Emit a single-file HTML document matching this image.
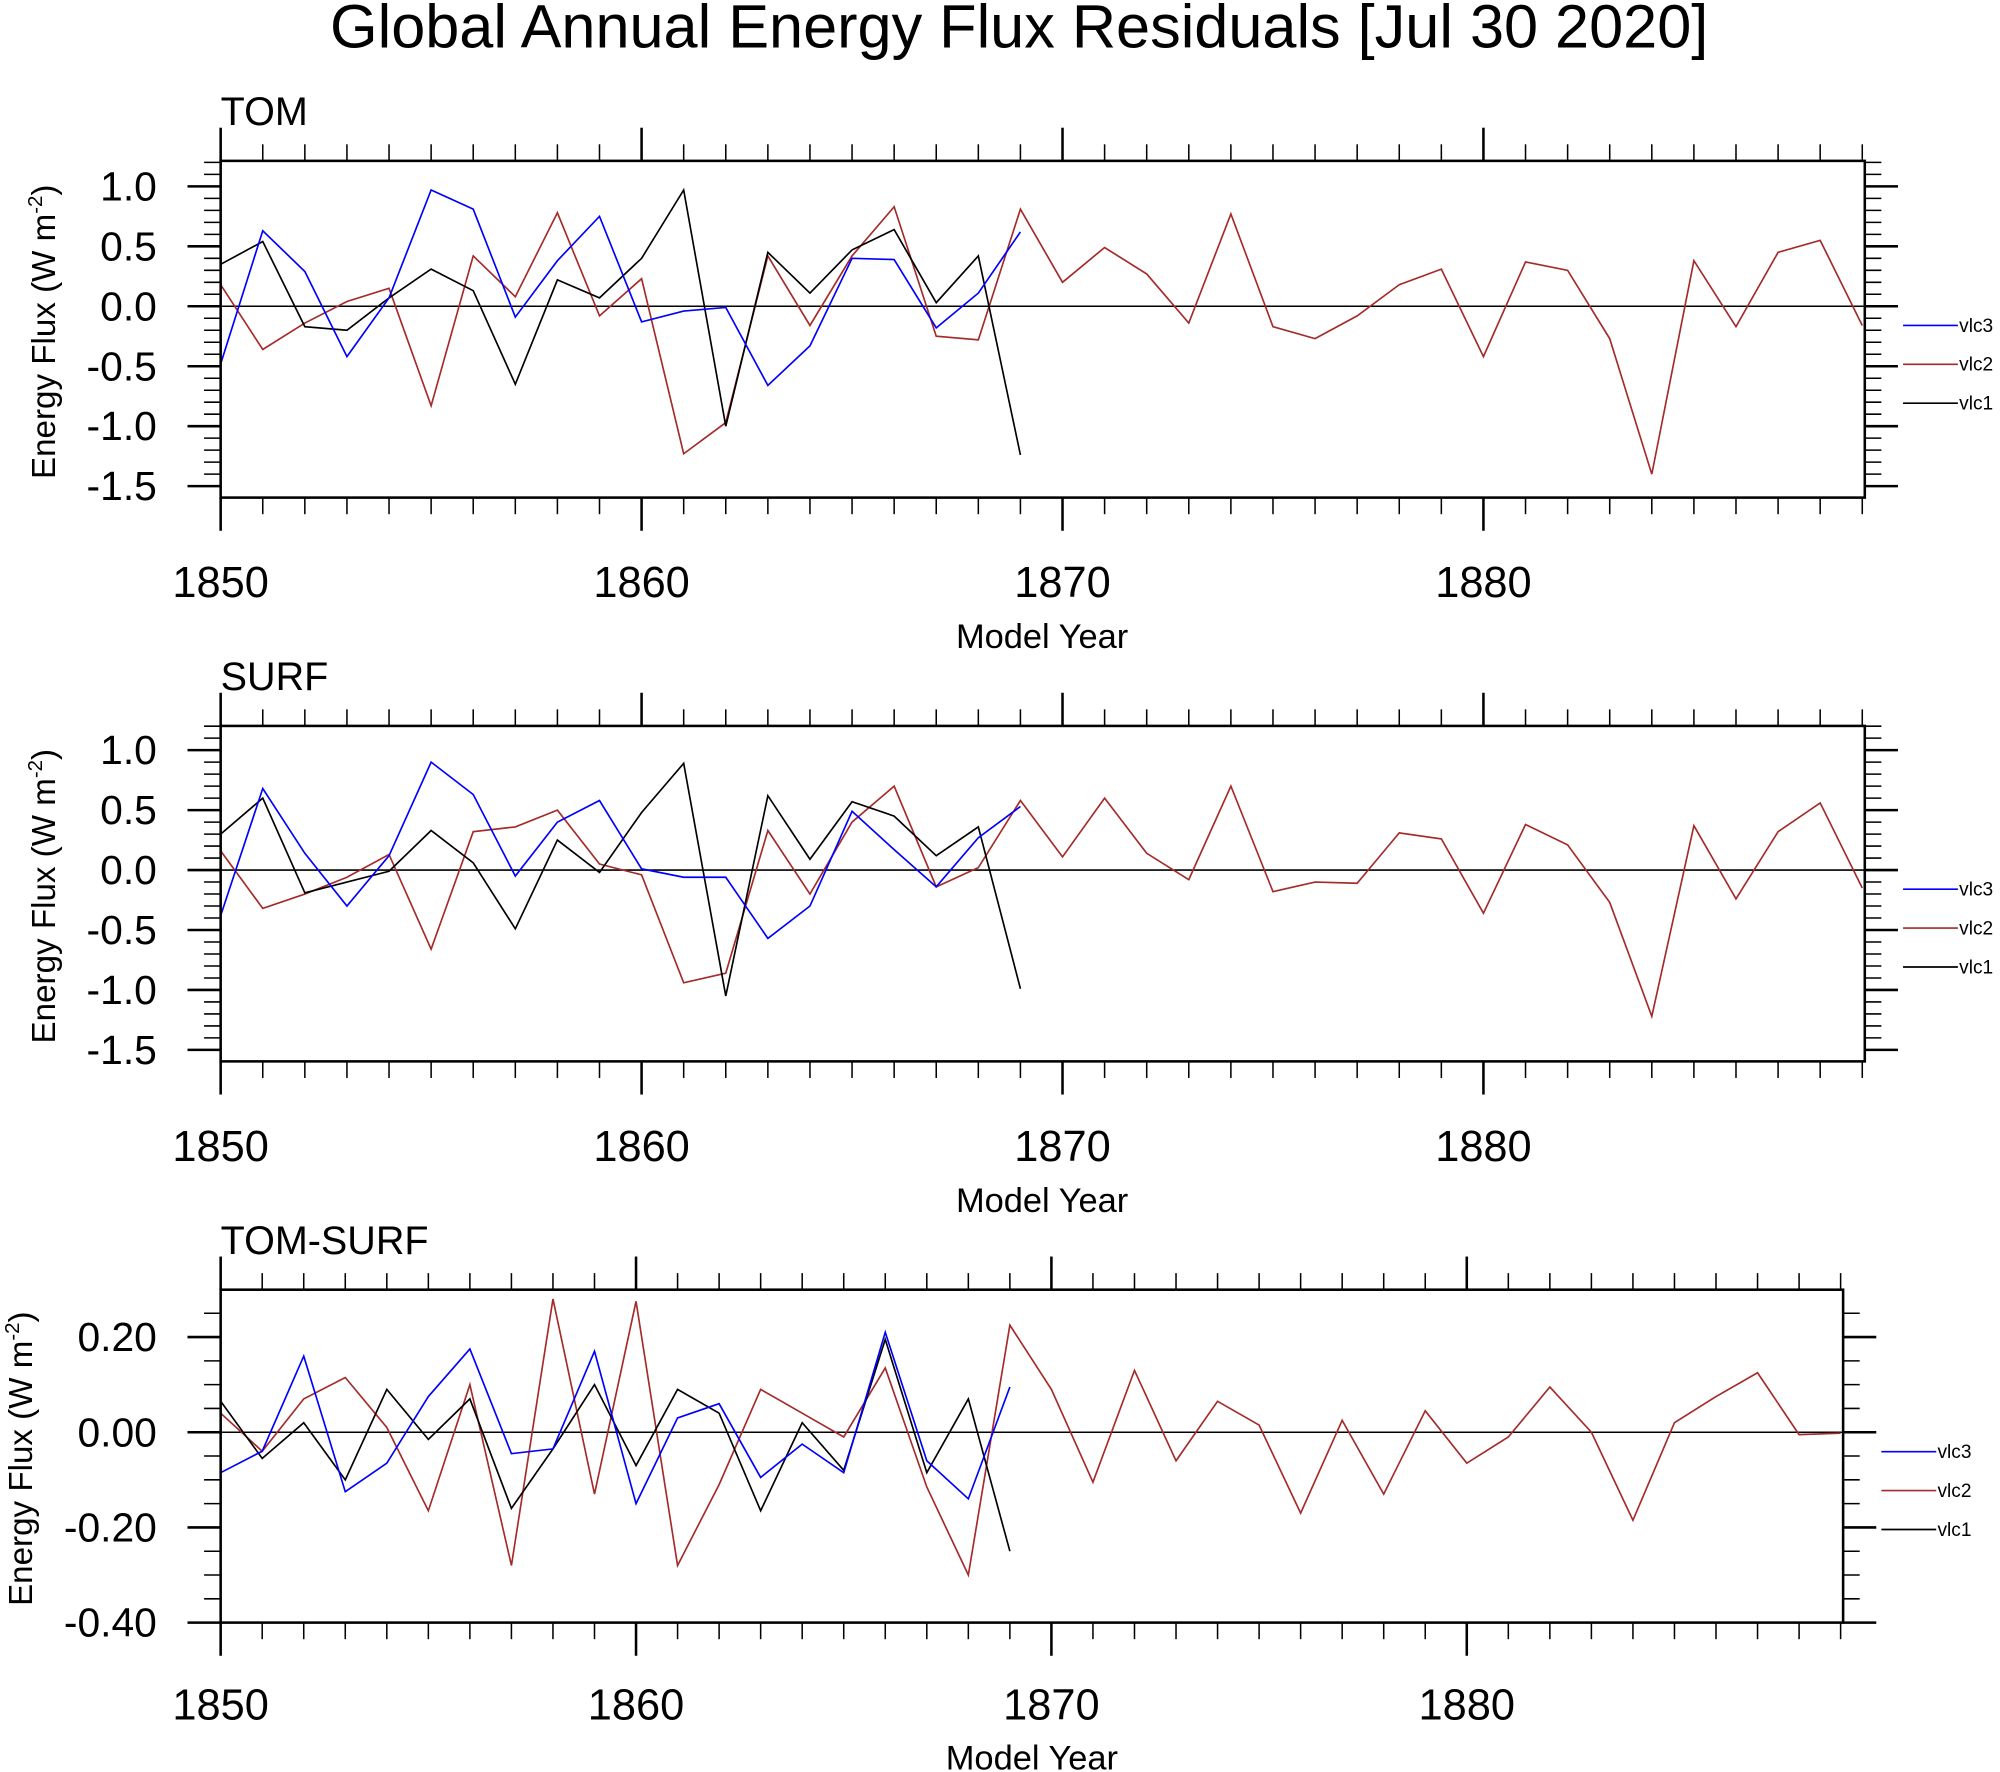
<!DOCTYPE html>
<html><head><meta charset="utf-8"><style>
html,body{margin:0;padding:0;background:#fff}
svg{display:block;font-family:"Liberation Sans",sans-serif}
</style></head><body>
<svg id="chart" xmlns="http://www.w3.org/2000/svg" width="2000" height="1772" viewBox="0 0 1568 1389">
<text x="799" y="37" font-size="48" text-anchor="middle">Global Annual Energy Flux Residuals [Jul 30 2020]</text>
</svg>
<script>
const tomVlc3=[-0.48,0.63,0.29,-0.42,0.07,0.97,0.81,-0.09,0.38,0.75,-0.13,-0.04,-0.01,-0.66,-0.33,0.40,0.39,-0.18,0.11,0.62];
const tomVlc1=[0.35,0.54,-0.17,-0.20,0.07,0.31,0.13,-0.65,0.22,0.07,0.40,0.97,-1.0,0.45,0.11,0.47,0.64,0.03,0.42,-1.24];
const tomVlc2=[0.18,-0.36,-0.14,0.04,0.15,-0.83,0.42,0.08,0.78,-0.08,0.23,-1.23,-0.97,0.42,-0.16,0.42,0.83,-0.25,-0.28,0.81,0.20,0.49,0.27,-0.14,0.77,-0.17,-0.27,-0.08,0.18,0.31,-0.42,0.37,0.30,-0.27,-1.40,0.38,-0.17,0.45,0.55,-0.16];
const surfVlc3=[-0.38,0.68,0.14,-0.30,0.12,0.90,0.63,-0.05,0.40,0.58,0.01,-0.06,-0.06,-0.57,-0.30,0.49,0.17,-0.14,0.27,0.53];
const surfVlc1=[0.30,0.60,-0.19,-0.10,-0.01,0.33,0.06,-0.49,0.25,-0.02,0.48,0.89,-1.05,0.62,0.09,0.57,0.45,0.12,0.36,-0.99];
const surfVlc2=[0.16,-0.32,-0.20,-0.06,0.13,-0.66,0.32,0.36,0.50,0.05,-0.04,-0.94,-0.86,0.33,-0.20,0.40,0.70,-0.14,0.02,0.58,0.11,0.60,0.14,-0.08,0.70,-0.18,-0.10,-0.11,0.31,0.26,-0.36,0.38,0.21,-0.27,-1.22,0.37,-0.24,0.32,0.56,-0.15];
const diffVlc3=[-0.085,-0.04,0.16,-0.125,-0.065,0.075,0.175,-0.045,-0.035,0.17,-0.15,0.03,0.06,-0.095,-0.025,-0.085,0.21,-0.06,-0.14,0.095];
const diffVlc1=[0.065,-0.055,0.02,-0.10,0.09,-0.015,0.07,-0.16,-0.035,0.10,-0.07,0.09,0.04,-0.165,0.02,-0.08,0.195,-0.085,0.07,-0.25];
const diffVlc2=[0.04,-0.04,0.07,0.115,0.01,-0.165,0.10,-0.28,0.28,-0.13,0.275,-0.28,-0.11,0.09,0.04,-0.01,0.135,-0.115,-0.30,0.225,0.09,-0.105,0.13,-0.06,0.065,0.015,-0.17,0.025,-0.13,0.045,-0.065,-0.01,0.095,0.0,-0.185,0.02,0.075,0.125,-0.005,-0.002];
const xTickLabels=["1850","1860","1870","1880"];
const yTicksTop=[1.0,0.5,0.0,-0.5,-1.0,-1.5];
const yTicksDiff=[0.20,0.00,-0.20,-0.40];
const seriesNames=["vlc3","vlc2","vlc1"];

const svg=document.getElementById('chart');
const NS='http://www.w3.org/2000/svg';
function mk(tag,attrs,parent){const e=document.createElementNS(NS,tag);for(const k in attrs)e.setAttribute(k,attrs[k]);(parent||svg).appendChild(e);return e;}

function panel(cfg){
  const g=mk('g',{});
  
  
  const X=y=>cfg.x0+(y-1850)*(cfg.x1-cfg.x0)/(1889.06-1850);
  const Y=v=>cfg.yb+(v-cfg.vmin)*(cfg.yt-cfg.yb)/(cfg.vmax-cfg.vmin);
  const z=mk('line',{x1:cfg.x0,x2:cfg.x1,y1:Y(0),y2:Y(0),stroke:'#000','stroke-width':1.2},g);
  
  const cols={vlc3:'#0000ff',vlc2:'#a52a2a',vlc1:'#000'};
  [['vlc2',cfg.s2],['vlc1',cfg.s1],['vlc3',cfg.s3]].forEach(([n,arr])=>{
    const p=mk('polyline',{points:arr.map((v,i)=>X(1850+i)+','+Y(v)).join(' '),fill:'none',stroke:cols[n],'stroke-width':1.3},g);
    
    
  });
  const r=mk('rect',{x:cfg.x0,y:cfg.yt,width:cfg.x1-cfg.x0,height:cfg.yb-cfg.yt,fill:'none',stroke:'#000','stroke-width':2},g);
  
  for(let yr=1850;yr<=1889;yr++){
    const maj=yr%10===0, L=maj?26:13, x=X(yr);
    mk('line',{x1:x,x2:x,y1:cfg.yb,y2:cfg.yb+L,stroke:'#000','stroke-width':maj?2:1.2},g);
    mk('line',{x1:x,x2:x,y1:cfg.yt,y2:cfg.yt-L,stroke:'#000','stroke-width':maj?2:1.2},g);
  }
  xTickLabels.forEach(t=>{
    const tx=mk('text',{x:X(+t),y:cfg.yb+cfg.xlo,'font-size':34,'text-anchor':'middle'},g);tx.textContent=t;
    
  });
  const st=cfg.minor;
  for(let v=Math.ceil(cfg.vmin/st-1e-6)*st; v<=cfg.vmax+1e-9; v+=st){
    const vv=Math.round(v/st)*st;
    const maj=cfg.ticks.some(t=>Math.abs(t-vv)<1e-6), L=maj?26:13, y=Y(vv);
    mk('line',{x1:cfg.x0,x2:cfg.x0-L,y1:y,y2:y,stroke:'#000','stroke-width':maj?2:1.2},g);
    mk('line',{x1:cfg.x1,x2:cfg.x1+L,y1:y,y2:y,stroke:'#000','stroke-width':maj?2:1.2},g);
  }
  cfg.ticks.forEach(t=>{
    const tx=mk('text',{x:cfg.x0-50,y:Y(t)+11,'font-size':32,'text-anchor':'end'},g);
    tx.textContent=t.toFixed(cfg.dec);
    
  });
  const pt=mk('text',{x:cfg.x0,y:cfg.yt-28,'font-size':31},g);pt.textContent=cfg.title;
  
  const xt=mk('text',{x:cfg.xlabx,y:cfg.yb+cfg.xto,'font-size':27,'text-anchor':'middle'},g);xt.textContent='Model Year';
  
  const cy=(cfg.yt+cfg.yb)/2+2;
  const yt=mk('text',{x:cfg.ytx,y:cy,'font-size':26,'text-anchor':'middle',transform:`rotate(-90 ${cfg.ytx} ${cy})`},g);
  yt.innerHTML='Energy Flux (W m<tspan font-size="16" dy="-10">-2</tspan><tspan dy="10">)</tspan>';
  
  seriesNames.forEach((n,i)=>{
    const ly=cfg.legY+i*30.5;
    const lg=mk('g',{},g);
    
    mk('line',{x1:cfg.legX,x2:cfg.legX+43,y1:ly,y2:ly,stroke:cols[n],'stroke-width':1.3},lg);
    const t=mk('text',{x:cfg.legX+44,y:ly+5,'font-size':15},lg);t.textContent=n;
  });
}
panel({name:'tom',title:'TOM',x0:173,x1:1462,yt:126,yb:390,vmax:(240-126)/94,vmin:(240-390)/94,ticks:yTicksTop,minor:0.1,dec:1,s1:tomVlc1,s2:tomVlc2,s3:tomVlc3,legX:1492,legY:255,xlabx:817,ytx:43,xlo:78,xto:118});
panel({name:'surf',title:'SURF',x0:173,x1:1462,yt:569,yb:832,vmax:(682-569)/94,vmin:(682-832)/94,ticks:yTicksTop,minor:0.1,dec:1,s1:surfVlc1,s2:surfVlc2,s3:surfVlc3,legX:1492,legY:697,xlabx:817,ytx:43,xlo:78,xto:118});
panel({name:'tom-surf',title:'TOM-SURF',x0:173,x1:1445,yt:1011,yb:1272,vmax:(1123-1011)/374,vmin:-0.40,ticks:yTicksDiff,minor:0.05,dec:2,s1:diffVlc1,s2:diffVlc2,s3:diffVlc3,legX:1475,legY:1138,xlabx:809,ytx:25,xlo:76,xto:115});
</script>
</body></html>
